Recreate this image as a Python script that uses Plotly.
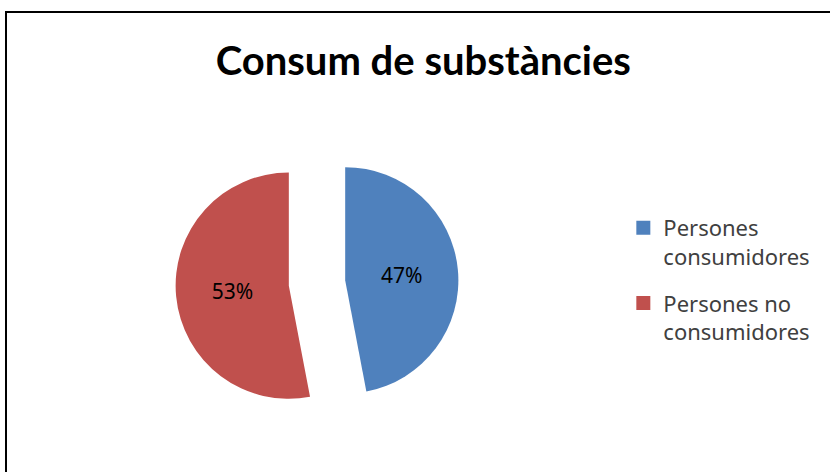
import plotly.graph_objects as go

labels = ["Persones consumidores", "Persones no consumidores"]
legend_labels = ["Persones<br>consumidores", "Persones no<br>consumidores"]
values = [47, 53]
colors = ["#4F81BD", "#C0504D"]
title_text = "Consum de substàncies"

W, H = 830, 472

fig = go.Figure()
fig.add_trace(go.Pie(
    labels=labels,
    values=values,
    sort=False,
    direction="clockwise",
    rotation=0,
    pull=[0.25, 0.25],
    marker=dict(colors=colors, line=dict(width=0)),
    textinfo="percent",
    texttemplate="%{percent:.0%}",
    textposition="inside",
    insidetextorientation="horizontal",
    textfont=dict(family="Noto Sans, Liberation Sans", size=21, color="#000000"),
    domain=dict(x=[(317 - 141.5) / W, (317 + 141.5) / W],
                y=[(H - 283 - 141.5) / H, (H - 283 + 141.5) / H]),
    showlegend=False,
    hoverinfo="label+percent",
))

# legend entries (one per slice)
for i, (name, col) in enumerate(zip(legend_labels, colors)):
    fig.add_trace(go.Scatter(
        x=[None], y=[None], mode="markers", name=name,
        marker=dict(symbol="square", size=14, color=col),
        legendgroup="g%d" % i, showlegend=True, hoverinfo="skip",
    ))

fig.update_layout(
    width=W, height=H,
    margin=dict(l=0, r=0, t=0, b=0),
    paper_bgcolor="white",
    plot_bgcolor="white",
    xaxis=dict(visible=False),
    yaxis=dict(visible=False),
    title=dict(text="<b>" + title_text + "</b>", x=0.51, xanchor="center",
               y=1 - 61 / H, yanchor="middle",
               font=dict(family="Lato, Open Sans", size=40, color="#000000")),
    legend=dict(x=0.751, y=1 - 207 / H, xanchor="left", yanchor="top",
                valign="top",
                font=dict(family="Noto Sans, Open Sans", size=22, color="#404040"),
                tracegroupgap=15, itemwidth=30),
    shapes=[dict(type="rect", xref="paper", yref="paper",
                 x0=6 / W, x1=1.02, y0=-0.02, y1=1 - 12 / H,
                 line=dict(color="#000000", width=2), fillcolor="rgba(0,0,0,0)")],
)

fig.write_html("out.html", config={"displayModeBar": False},
               post_script="document.body.style.margin='0';")
